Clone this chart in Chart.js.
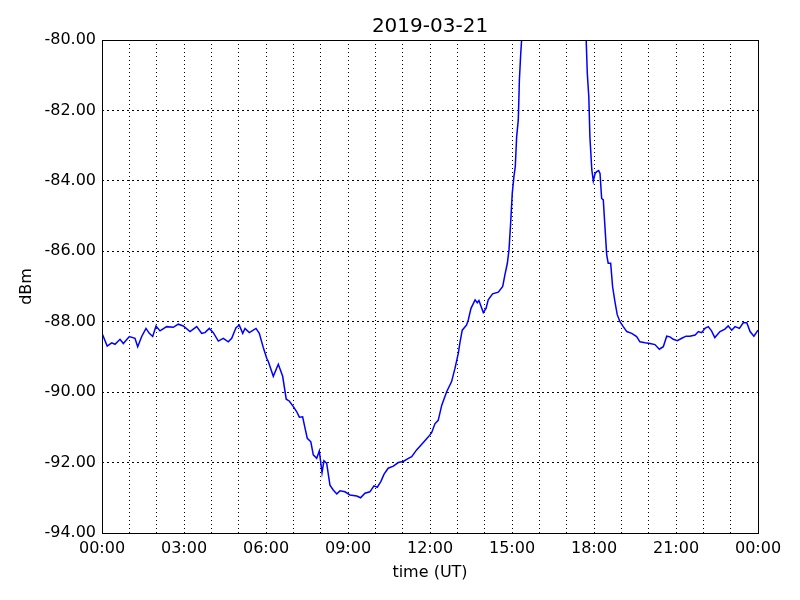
<!DOCTYPE html>
<html>
<head>
<meta charset="utf-8">
<script src="https://cdn.jsdelivr.net/npm/chart.js@4/dist/chart.umd.min.js"></script>
<style>
  html, body { margin: 0; padding: 0; background: #fff; }
  canvas { display: block; }
</style>
</head>
<body>
<canvas id="chart" width="800" height="600"></canvas>
<script>
/* signal level over one day */
const hours = [
    0.00, 0.19, 0.355, 0.476, 0.659, 0.78, 1.0, 1.207, 1.306, 1.452,
    1.61, 1.73, 1.855, 1.976, 2.122, 2.367, 2.609, 2.79, 2.974, 3.22,
    3.465, 3.648, 3.768, 3.926, 4.072, 4.255, 4.438, 4.62, 4.745, 4.902,
    5.023, 5.148, 5.232, 5.39, 5.634, 5.755, 5.9, 6.026, 6.084, 6.267,
    6.45, 6.61, 6.74, 6.85, 7.0, 7.12, 7.22, 7.34, 7.43, 7.51,
    7.64, 7.73, 7.855, 7.95, 8.05, 8.12, 8.22, 8.34, 8.46, 8.59,
    8.71, 8.89, 9.07, 9.32, 9.46, 9.62, 9.8, 9.95, 10.07, 10.2,
    10.32, 10.47, 10.66, 10.84, 11.02, 11.21, 11.33, 11.51, 11.755, 11.94,
    12.06, 12.18, 12.3, 12.43, 12.61, 12.79, 12.915, 13.035, 13.1, 13.18,
    13.34, 13.4, 13.5, 13.65, 13.73, 13.79, 13.95, 14.05, 14.13, 14.29,
    14.5, 14.66, 14.74, 14.83, 14.89, 14.95, 15.01, 15.07, 15.12, 15.17,
    15.23, 15.27, 15.32, 15.36, 15.4, 15.6, 16.0, 16.5, 17.0, 17.4,
    17.65, 17.71, 17.755, 17.81, 17.85, 17.92, 17.975, 18.04, 18.1, 18.17,
    18.22, 18.28, 18.34, 18.4, 18.465, 18.52, 18.61, 18.68, 18.77, 18.85,
    18.95, 19.07, 19.2, 19.38, 19.56, 19.68, 19.87, 20.05, 20.23, 20.39,
    20.535, 20.66, 20.78, 20.9, 21.05, 21.21, 21.37, 21.51, 21.7, 21.82,
    21.94, 22.06, 22.18, 22.3, 22.42, 22.61, 22.79, 22.91, 23.04, 23.16,
    23.32, 23.46, 23.59, 23.71, 23.85, 24.0
];
const dbm = [
    -88.33, -88.69, -88.60, -88.64, -88.50, -88.62, -88.42, -88.47, -88.71, -88.42,
    -88.19, -88.33, -88.42, -88.12, -88.26, -88.14, -88.16, -88.07, -88.12, -88.28,
    -88.14, -88.33, -88.31, -88.19, -88.31, -88.55, -88.47, -88.57, -88.47, -88.17,
    -88.10, -88.33, -88.19, -88.31, -88.19, -88.33, -88.73, -89.04, -89.13, -89.55,
    -89.21, -89.55, -90.20, -90.25, -90.41, -90.55, -90.71, -90.70, -91.03, -91.31,
    -91.41, -91.78, -91.88, -91.67, -92.29, -91.95, -92.02, -92.64, -92.78, -92.89,
    -92.80, -92.83, -92.92, -92.95, -93.00, -92.87, -92.83, -92.66, -92.70, -92.54,
    -92.33, -92.16, -92.10, -92.00, -91.97, -91.88, -91.83, -91.64, -91.43, -91.27,
    -91.15, -90.90, -90.80, -90.37, -89.99, -89.70, -89.32, -88.90, -88.57, -88.24,
    -88.09, -87.95, -87.62, -87.38, -87.46, -87.40, -87.74, -87.62, -87.38, -87.21,
    -87.16, -87.00, -86.67, -86.34, -85.96, -85.20, -84.35, -83.88, -83.60, -82.75,
    -82.27, -81.14, -80.38, -79.90, -79.30, -78.00, -76.80, -76.20, -76.60, -77.80,
    -79.30, -79.90, -80.95, -81.61, -82.75, -83.69, -84.00, -83.79, -83.74, -83.71,
    -83.79, -84.50, -84.54, -85.30, -86.10, -86.34, -86.34, -87.00, -87.45, -87.80,
    -88.00, -88.14, -88.28, -88.33, -88.42, -88.57, -88.60, -88.62, -88.65, -88.78,
    -88.71, -88.41, -88.43, -88.50, -88.54, -88.47, -88.41, -88.41, -88.38, -88.28,
    -88.31, -88.19, -88.14, -88.26, -88.45, -88.28, -88.21, -88.12, -88.24, -88.14,
    -88.19, -88.03, -88.03, -88.28, -88.41, -88.24
];

const FONT = { family: 'DejaVu Sans', size: 16 };

// matplotlib-style box round the plot area
const frame = {
    id: 'frame',
    afterDraw(chart) {
        const { ctx, chartArea: a } = chart;
        ctx.save();
        ctx.strokeStyle = '#000';
        ctx.lineWidth = 1;
        ctx.strokeRect(Math.round(a.left) + 0.5, Math.round(a.top) + 0.5,
            Math.round(a.right - a.left), Math.round(a.bottom - a.top));
        ctx.restore();
    }
};

const points = hours.map((h, i) => ({ x: h, y: dbm[i] }));

new Chart(document.getElementById('chart'), {
    type: 'line',
    data: {
        datasets: [{
            data: points,
            borderColor: '#0000ff',
            borderWidth: 1.5,
            pointRadius: 0,
            tension: 0,
            fill: false,
        }]
    },
    options: {
        animation: false,
        responsive: false,
        layout: { padding: { left: 0, right: 42, top: 0, bottom: 0 } },
        plugins: {
            legend: { display: false },
            tooltip: { enabled: false },
            title: {
                display: true,
                fullSize: false,
                text: '2019-03-21',
                color: '#000',
                font: { family: 'DejaVu Sans', size: 20, weight: 'normal' },
                padding: { top: 15, bottom: 1 },
            }
        },
        scales: {
            x: {
                type: 'linear',
                min: 0,
                max: 24,
                afterFit: s => { s.height = 67; },
                ticks: {
                    stepSize: 1,
                    autoSkip: false,
                    maxRotation: 0,
                    padding: 6,
                    color: '#000',
                    font: FONT,
                    callback: v => v % 3 ? '' : String(v % 24).padStart(2, '0') + ':00',
                },
                grid: { color: '#000', lineWidth: 1, drawTicks: false },
                border: { display: false, dash: [1, 3] },
                title: { display: true, text: 'time (UT)', color: '#000', font: FONT, padding: { top: 0, bottom: 18 } },
            },
            y: {
                min: -94,
                max: -80,
                afterFit: s => { s.width = 102; },
                ticks: {
                    stepSize: 2,
                    padding: 6,
                    color: '#000',
                    font: FONT,
                    callback: v => v.toFixed(2),
                },
                grid: { color: '#000', lineWidth: 1, drawTicks: false },
                border: { display: false, dash: [2, 3] },
                title: { display: true, text: 'dBm', color: '#000', font: FONT, padding: { top: 17, bottom: 0 } },
            }
        }
    },
    plugins: [frame]
});
</script>
</body>
</html>
